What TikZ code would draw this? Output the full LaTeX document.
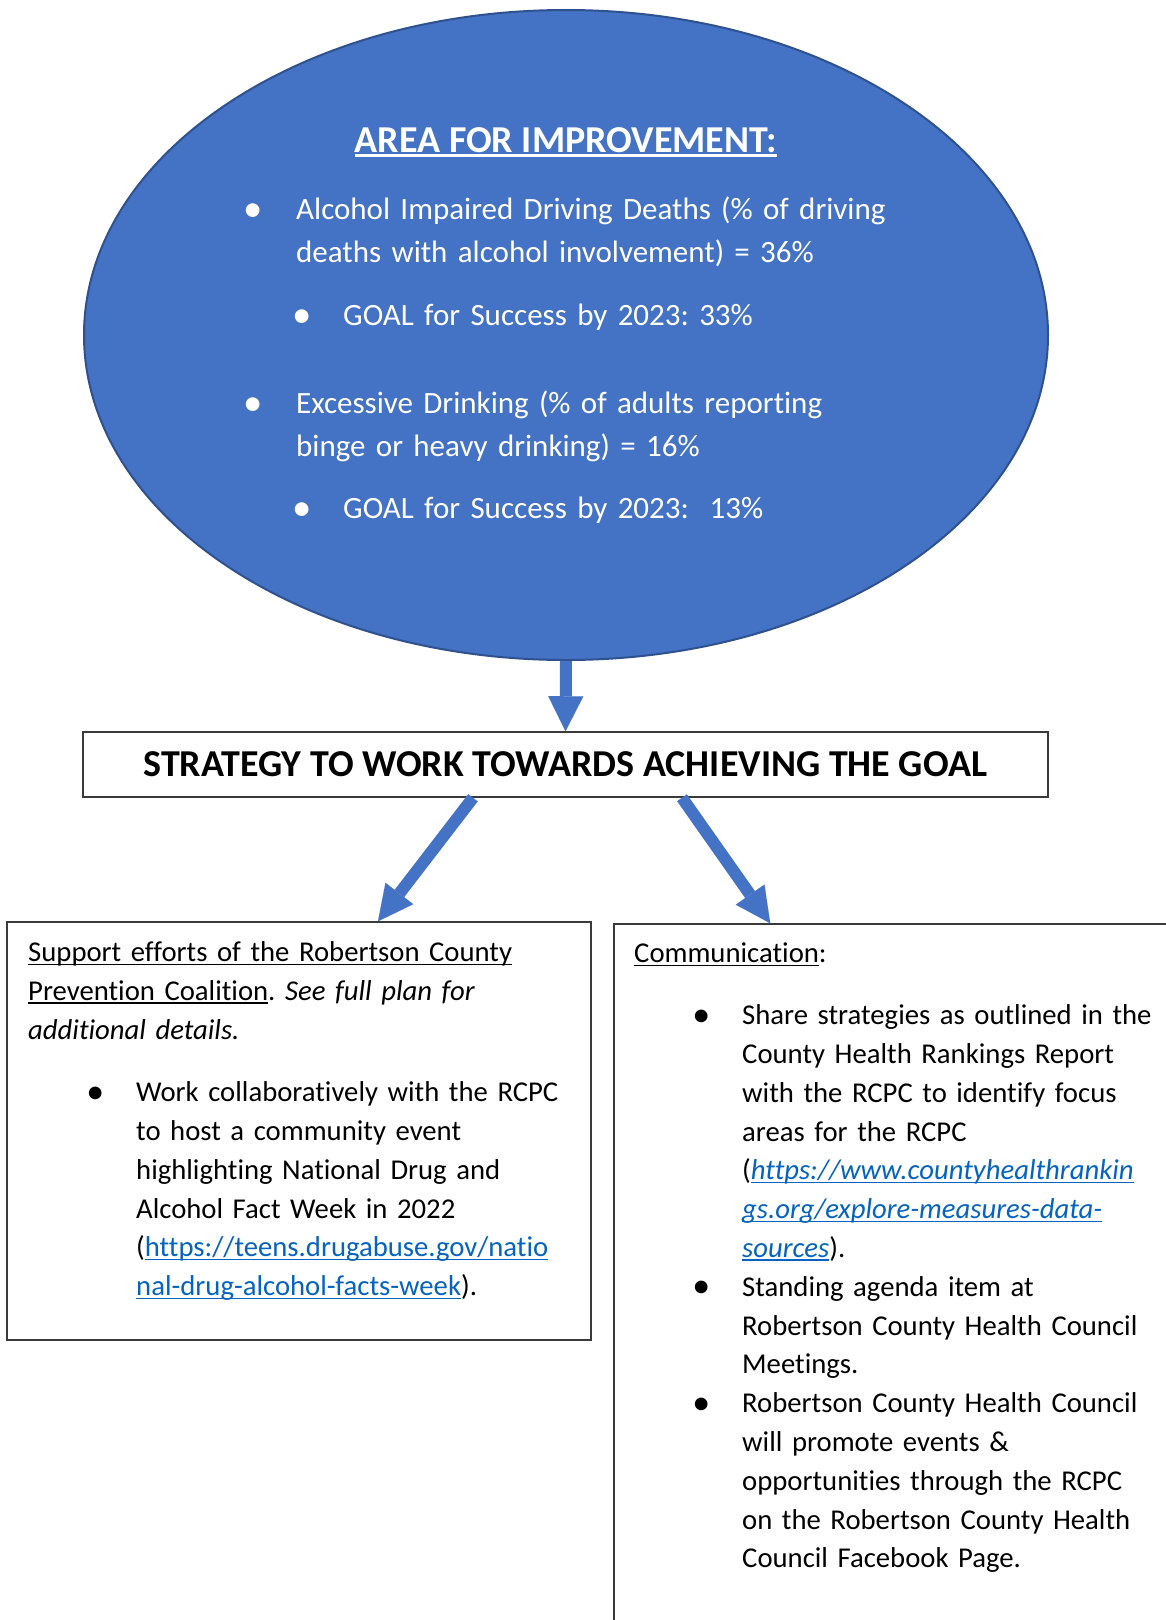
\documentclass[tikz,border=0pt]{standalone}
\usepackage{fontspec}
\setmainfont{Carlito}[Ligatures=NoCommon]
\usetikzlibrary{shapes.geometric,arrows.meta}
\definecolor{areablue}{HTML}{4472C4}
\definecolor{areaedge}{HTML}{2F528F}
\definecolor{linkblue}{HTML}{0563C1}
\definecolor{boxedge}{HTML}{3A3A3A}
\newcommand\myul[1]{\leavevmode\setbox0\hbox{#1}\rlap{\rule[-0.12em]{\wd0}{0.055em}}\box0}
\newcommand\lnk[1]{\leavevmode{\color{linkblue}\myul{#1}}}
\newcommand\bul[1]{\leavevmode\llap{\makebox[#1][c]{\raisebox{-0.06em}{\scalebox{1.25}{•}}}}}
\tikzset{
  areaell/.style={ellipse, fill=areablue, draw=areaedge, line width=2pt, minimum width=964pt, minimum height=650pt, inner sep=0pt},
  etext/.style={anchor=north west, inner sep=0pt, text=white, font=\fontsize{31}{43}\selectfont, align=left, text width=760pt},
  ttext/.style={anchor=base, inner sep=0pt, text=white, font=\fontsize{38}{43}\selectfont\bfseries},
  stratbox/.style={draw=boxedge, line width=1.5pt, fill=white, minimum width=965pt, minimum height=65pt, inner sep=0pt, font=\fontsize{38}{40}\selectfont\bfseries},
  boxst/.style={draw=boxedge, line width=1.5pt, fill=white, inner sep=0pt},
  btext/.style={anchor=north west, inner sep=0pt, text=black, font=\fontsize{28.7}{38.8}\selectfont, align=left, text width=500pt},
  arr/.style={draw=areablue, line width=12pt, -{Triangle[width=35pt,length=35pt,line width=0.01pt]}}
}
\begin{document}
\frenchspacing
\begin{tikzpicture}[x=1pt,y=-1pt]
\useasboundingbox (0,0) rectangle (1166,1620);
\fill[white] (0,0) rectangle (1166,1620);
\clip (0,0) rectangle (1166,1620);
% ellipse
\node[areaell] (area) at (566,335) {};
\node[ttext] (title) at (566,152) {\myul{AREA FOR IMPROVEMENT:}};
\node[etext] (a1) at (296,188.9) {\strut\bul{86pt}Alcohol Impaired Driving Deaths (\% of driving\\deaths with alcohol involvement) = 36\%};
\node[etext] (a2) at (343,294.9) {\strut\bul{82pt}GOAL for Success by 2023: 33\%};
\node[etext] (b1) at (296,382.9) {\strut\bul{86pt}Excessive Drinking (\% of adults reporting\\binge or heavy drinking) = 16\%};
\node[etext] (b2) at (343,487.9) {\strut\bul{82pt}GOAL for Success by 2023: \ 13\%};
% strategy
\node[stratbox] (strat) at (565.5,764.5) {STRATEGY TO WORK TOWARDS ACHIEVING THE GOAL};
% boxes
\node[boxst, minimum width=584pt, minimum height=418pt] (lbox) at (299,1131) {};
\node[boxst, minimum width=600pt, minimum height=750pt] (rbox) at (914,1299) {};
% left box text
\node[btext] (l1) at (28,934.3) {\strut\myul{Support efforts of the Robertson County}\\\myul{Prevention Coalition}. \textit{See full plan for}\\\textit{additional details.}};
\node[btext] (l2) at (136,1074.3) {\strut\bul{82pt}Work collaboratively with the RCPC\\to host a community event\\highlighting National Drug and\\Alcohol Fact Week in 2022\\(\lnk{https://teens.drugabuse.gov/natio}\\\lnk{nal-drug-alcohol-facts-week}).};
% right box text
\node[btext] (r0) at (634,935.5) {\strut\myul{Communication}:};
\node[btext] (r1) at (742,997.3) {\strut\bul{82pt}Share strategies as outlined in the\\County Health Rankings Report\\with the RCPC to identify focus\\areas for the RCPC\\(\lnk{\textit{https://www.countyhealthrankin}}\\\lnk{\textit{gs.org/explore-measures-data-}}\\\lnk{\textit{sources}}).};
\node[btext] (r2) at (742,1268.9) {\strut\bul{82pt}Standing agenda item at\\Robertson County Health Council\\Meetings.};
\node[btext] (r3) at (742,1385.3) {\strut\bul{82pt}Robertson County Health Council\\will promote events \&\\opportunities through the RCPC\\on the Robertson County Health\\Council Facebook Page.};
% arrows
\draw[arr] (area.south) -- (strat.north);
\draw[arr] ([xshift=-92.5pt]strat.south) -- ([xshift=79pt]lbox.north);
\draw[arr] ([xshift=116.5pt]strat.south) -- ([xshift=157pt]rbox.north west);
\end{tikzpicture}
\end{document}
